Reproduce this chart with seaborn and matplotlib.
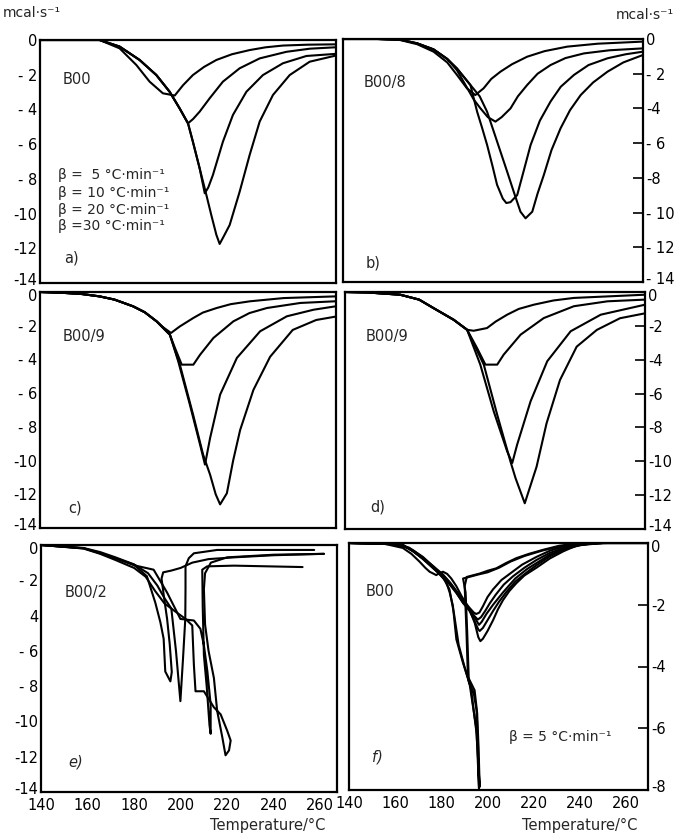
import numpy as np
import pandas as pd
import seaborn as sns
import matplotlib.pyplot as plt
from matplotlib.transforms import ScaledTranslation

# heat flow curves (temperature in degC, heat flow in mcal/s)
# panel a) B00, heating rates 5, 10, 20, 30 K/min
a_05 = [(140, 0), (155, 0), (165.6, 0), (174.2, -0.48), (181.4, -1.44), (187.1, -2.4), (192.8, -3.07),
        (197.9, -3.2), (201.5, -2.6), (205.7, -2.02), (210.5, -1.55), (215.8, -1.15), (222.5, -0.82),
        (230.1, -0.58), (237, -0.42), (244.4, -0.32), (255, -0.27), (267, -0.25)]
a_10 = [(140, 0), (155, 0), (165.6, 0), (174.2, -0.38), (182.8, -1.15), (190, -2.02), (195.7, -2.98),
        (200, -3.94), (203.6, -4.8), (205.8, -4.55), (208.6, -4.13), (212.9, -3.36), (218.6, -2.4),
        (225.8, -1.63), (234.4, -1.06), (245.9, -0.68), (256, -0.5), (267, -0.42)]
a_20 = [(140, 0), (155, 0), (165.6, 0), (174.2, -0.38), (182.8, -1.15), (190, -2.02), (195.7, -2.98),
        (200, -3.94), (203.6, -4.8), (205.7, -5.86), (208.6, -7.39), (210.8, -8.83), (212.3, -8.5),
        (214.3, -7.78), (218.6, -5.86), (222.9, -4.32), (228.7, -2.98), (235.8, -2.02), (244.4, -1.34),
        (254.5, -0.92), (267, -0.8)]
a_30 = [(140, 0), (155, 0), (165.6, 0), (174.2, -0.38), (182.8, -1.15), (190, -2.02), (195.7, -2.98),
        (200, -3.94), (203.6, -4.8), (205.7, -5.86), (208.6, -7.39), (211.5, -8.93), (213.6, -10.08),
        (215.8, -11.23), (217.2, -11.75), (219, -11.3), (221.5, -10.66), (225.8, -8.74), (230.1, -6.62),
        (234.4, -4.7), (240.1, -3.17), (247.3, -2.02), (255.9, -1.25), (267, -0.9)]

# panel b) B00/8
b_05 = [(140, 0), (155, 0), (164.7, -0.06), (172, -0.3), (179.1, -0.73), (185, -1.35), (189.2, -2.07),
        (193.5, -2.84), (197.1, -3.23), (200.7, -2.84), (204, -2.3), (208, -1.88), (213, -1.45),
        (219.5, -1.02), (227, -0.7), (236.8, -0.44), (250, -0.27), (269.5, -0.15)]
b_10 = [(140, 0), (155, 0), (164.7, -0.04), (172, -0.25), (179.1, -0.6), (185, -1.15), (189.2, -1.8),
        (193.5, -2.8), (196.5, -3.5), (199.3, -3.99), (202.5, -4.5), (205.8, -4.76), (208.5, -4.5),
        (212.3, -4.0), (215.5, -3.3), (219.5, -2.65), (224, -2.0), (229.6, -1.5), (236, -1.1),
        (244, -0.83), (255, -0.65), (269.5, -0.54)]
b_20 = [(140, 0), (155, 0), (164.7, -0.04), (172, -0.25), (179.1, -0.6), (185, -1.15), (189.2, -1.7),
        (195, -2.65), (197.9, -4.19), (200, -5.1), (202.2, -6.1), (204.5, -7.3), (206.5, -8.4),
        (209, -9.2), (210.5, -9.45), (212.3, -9.4), (215.2, -8.99), (218, -7.6), (221, -6.1),
        (225, -4.7), (229.6, -3.6), (234, -2.75), (239.7, -2.07), (246, -1.5), (254.2, -1.11),
        (262, -0.88), (269.5, -0.73)]
b_30 = [(140, 0), (155, 0), (164.7, -0.04), (172, -0.25), (179.1, -0.6), (185, -1.15), (189.2, -1.7),
        (195, -2.65), (199, -3.3), (202.2, -4.19), (205, -5.3), (208, -6.5), (211, -7.7), (213.7, -8.8),
        (216.6, -9.95), (218.8, -10.33), (221.7, -9.95), (224, -8.9), (226.7, -7.83), (230, -6.4),
        (233.9, -5.15), (238, -4.1), (242.6, -3.23), (248, -2.5), (254.2, -1.88), (261, -1.35),
        (269.5, -0.92)]

# panel c) B00/9
c_05 = [(140, 0), (150, -0.05), (158, -0.12), (165.6, -0.26), (172, -0.45), (180, -0.85), (185, -1.2),
        (190.1, -1.74), (193, -2.1), (196.3, -2.43), (200, -2.05), (205.9, -1.54), (210, -1.22),
        (215.9, -0.95), (222, -0.72), (230.3, -0.55), (244.7, -0.36), (267, -0.26)]
c_10 = [(140, 0), (150, -0.05), (158, -0.12), (165.6, -0.26), (172, -0.45), (180, -0.85), (185, -1.2),
        (190.1, -1.74), (195.8, -2.53), (198, -3.32), (200.9, -4.31), (205.9, -4.31), (208.8, -3.72),
        (214.5, -2.73), (223.1, -1.74), (230, -1.25), (237.5, -0.95), (251.9, -0.65), (267, -0.55)]
c_20 = [(140, 0), (150, -0.05), (158, -0.12), (165.6, -0.26), (172, -0.45), (180, -0.85), (185, -1.2),
        (190.1, -1.74), (195.8, -2.53), (199.4, -4.11), (204.4, -6.68), (208.8, -9.06), (210.9, -10.24),
        (213.1, -8.66), (217.4, -6.09), (224.6, -3.91), (234.6, -2.33), (246.1, -1.44), (257.6, -1.05),
        (267, -0.85)]
c_30 = [(140, 0), (150, -0.05), (158, -0.12), (165.6, -0.26), (172, -0.45), (180, -0.85), (185, -1.2),
        (190.1, -1.74), (195.8, -2.53), (200.1, -4.31), (205.8, -7.28), (210.1, -9.65), (213.1, -10.84),
        (215.5, -12.0), (217.4, -12.6), (220.3, -11.94), (223, -10.0), (226, -8.19), (231.7, -5.81),
        (238.9, -3.84), (248.6, -2.25), (258.7, -1.66), (267, -1.46)]

# panel d) B00/9, second run
d_05 = [(140, 0), (150, -0.03), (163.8, -0.16), (172, -0.45), (178.2, -0.95), (186.9, -1.64),
        (192.7, -2.23), (195.5, -2.29), (201.3, -2.13), (205, -1.75), (210, -1.34), (215, -1.0),
        (221.5, -0.75), (230, -0.5), (238.8, -0.35), (269.5, -0.16)]
d_10 = [(140, 0), (150, -0.03), (163.8, -0.16), (172, -0.45), (178.2, -0.95), (186.9, -1.64),
        (192.7, -2.23), (197, -3.31), (200.6, -4.29), (205.7, -4.29), (208.5, -3.7), (215.8, -2.52),
        (225.8, -1.54), (238.8, -0.84), (253.3, -0.55), (269.5, -0.45)]
d_20 = [(140, 0), (150, -0.03), (163.8, -0.16), (172, -0.45), (178.2, -0.95), (186.9, -1.64),
        (192.7, -2.23), (198.4, -4.29), (204.2, -7.05), (210, -9.41), (212.2, -10.1), (214.3, -9.02),
        (220.1, -6.46), (227.3, -4.09), (237.4, -2.32), (250.4, -1.34), (269.5, -0.75)]
d_30 = [(140, 0), (150, -0.03), (163.8, -0.16), (172, -0.45), (178.2, -0.95), (186.9, -1.64),
        (192.7, -2.23), (199.9, -4.29), (205.7, -7.25), (211.4, -10.0), (213.6, -10.99),
        (217.6, -12.48), (222.7, -10.32), (227, -7.76), (232.8, -5.2), (240, -3.23), (248.7, -2.24),
        (258.7, -1.55), (269.5, -1.26)]

# panel e) B00/2, several runs at the same rate
e_r1 = [(140, 0), (158.3, -0.19), (165.4, -0.47), (172, -0.75), (179.8, -1.1), (185.5, -1.77),
        (189.1, -3.26), (191.3, -4.38), (192.7, -5.31), (193.4, -7.17), (195.6, -7.73), (196.2, -7.2),
        (195.3, -5.6), (194.2, -4.2), (192.8, -2.9), (191.8, -1.9), (192.5, -1.55), (196, -1.45),
        (200, -1.3), (205, -1.0), (212, -0.8), (222.9, -0.7), (240, -0.58), (261.6, -0.5)]
e_r2 = [(140, 0), (158.3, -0.17), (165.4, -0.4), (172, -0.7), (180, -1.1), (186, -1.6), (190, -2.3),
        (193, -3.0), (196, -3.6), (198, -6.0), (199.9, -8.85), (201, -6.5), (202, -4.2), (202.1, -2.5),
        (202.1, -1.21), (203.5, -0.75), (205.7, -0.47), (215.7, -0.28), (257.4, -0.28)]
e_r3 = [(140, 0), (158.3, -0.18), (165.4, -0.45), (172, -0.75), (180, -1.15), (188.4, -1.4),
        (194.2, -2.7), (199.9, -4.19), (205.7, -4.28), (208.5, -4.75), (210, -5.68), (211.5, -7.17),
        (212.9, -9.03), (212.9, -10.7), (212.4, -10.2), (211.2, -8.0), (210, -6.24), (209.5, -3.5),
        (209.3, -1.4), (211.4, -1.21), (222.9, -1.17), (252.4, -1.25)]
e_r4 = [(140, 0), (158.3, -0.2), (165.4, -0.5), (172, -0.85), (180, -1.3), (185, -1.8), (189, -2.6),
        (193, -3.3), (197, -3.7), (202.1, -4.19), (205, -4.56), (205.7, -6.8), (206.4, -8.29),
        (210, -8.29), (214.3, -9.2), (217.2, -9.6), (220, -10.52), (221.5, -11.08), (220.8, -11.64),
        (219.3, -11.92), (217.9, -10.89), (215.7, -9.4), (214.3, -7.54), (212, -6.0), (210.5, -4.5),
        (210, -2.5), (210.5, -1.6), (213, -1.0), (220, -0.7), (240, -0.55), (261.6, -0.5)]

# panel f) B00, repeated runs at 5 K/min
f_r1 = [(140, 0), (158, -0.03), (163.3, -0.06), (168, -0.25), (172, -0.47), (176.5, -0.75),
        (180.7, -1.02), (184, -1.3), (186.5, -1.55), (189.5, -1.85), (192.2, -2.1), (194, -2.25),
        (195.1, -2.3), (196.5, -2.25), (198, -2.05), (200, -1.75), (202.4, -1.5), (206, -1.2),
        (209.6, -1.0), (215, -0.7), (221.2, -0.45), (227, -0.25), (232.8, -0.12), (240, -0.04),
        (248, 0), (270, 0)]
f_r2 = [(140, 0), (158, -0.03), (163.3, -0.07), (168, -0.27), (172, -0.5), (176.5, -0.78),
        (180.7, -1.04), (184, -1.32), (186.5, -1.58), (189.5, -1.9), (192.2, -2.16), (194.5, -2.38),
        (195.8, -2.48), (197.2, -2.4), (199, -2.2), (201, -1.95), (203.5, -1.68), (207, -1.35),
        (211, -1.08), (216, -0.8), (221.2, -0.55), (227, -0.32), (233, -0.16), (240, -0.05), (250, 0),
        (270, 0)]
f_r3 = [(140, 0), (155, -0.02), (163.3, -0.16), (167, -0.35), (170.5, -0.6), (173, -0.8),
        (174.9, -0.93), (177.8, -1.04), (179, -0.98), (180.7, -0.93), (182.5, -1.0), (184.3, -1.15),
        (186.5, -1.4), (188.6, -1.7), (191, -2.0), (193.5, -2.3), (195.5, -2.55), (196.3, -2.65),
        (197.5, -2.55), (199.5, -2.3), (202.4, -2.0), (206.7, -1.6), (212, -1.15), (217, -0.85),
        (221.2, -0.65), (227, -0.38), (232.8, -0.2), (240, -0.06), (248, 0), (270, 0)]
f_r4 = [(140, 0), (158, -0.03), (163.3, -0.07), (168, -0.28), (172, -0.5), (176.5, -0.8),
        (180.7, -1.06), (184, -1.36), (186.5, -1.6), (189.5, -1.95), (192.2, -2.2), (194.5, -2.55),
        (196, -2.8), (196.6, -2.85), (198, -2.75), (200, -2.5), (202.4, -2.2), (205, -1.9),
        (208, -1.6), (212, -1.25), (217, -0.95), (221.2, -0.72), (227, -0.43), (233, -0.22),
        (240, -0.07), (250, 0), (270, 0)]
f_r5 = [(140, 0), (158, -0.03), (163.3, -0.07), (168, -0.28), (172, -0.52), (176.5, -0.82),
        (180.7, -1.08), (184, -1.38), (186.5, -1.62), (189.5, -1.95), (192.2, -2.14), (194.5, -2.6),
        (196, -3.05), (196.9, -3.18), (198, -3.1), (200, -2.85), (202.4, -2.5), (204.5, -2.15),
        (206.7, -1.85), (209.5, -1.55), (212.5, -1.3), (216, -1.05), (221.2, -0.8), (227, -0.5),
        (232.8, -0.27), (238, -0.1), (244, -0.02), (252, 0), (270, 0)]
f_d1 = [(140, 0), (150, -0.01), (160, -0.04), (166, -0.15), (172, -0.45), (177, -0.8), (182.1, -1.26),
        (183.6, -1.6), (185, -2.03), (186.5, -3.12), (189.4, -3.89), (192.2, -4.55), (195.1, -5.98),
        (196.6, -7.9), (196.1, -6.6), (195.5, -5.5), (194.4, -4.77), (191.5, -4.33), (190.8, -2.69),
        (190.1, -1.4), (191, -1.1), (193.5, -1.05), (196.6, -0.99), (200, -0.9), (203.8, -0.82),
        (208, -0.65), (212.5, -0.49), (218, -0.35), (224.1, -0.22), (231, -0.09), (239, -0.01),
        (250, 0), (270, 0)]
f_d2 = [(140, 0), (150, -0.01), (160, -0.05), (166, -0.17), (172, -0.5), (177, -0.85), (181, -1.15),
        (183.5, -1.5), (185.5, -2.3), (187.5, -3.3), (190, -4.0), (192.8, -4.7), (195.3, -6.2),
        (196.3, -7.95), (195.8, -6.3), (195.2, -5.4), (194, -4.85), (191.9, -4.5), (191.2, -2.9),
        (190.5, -1.6), (189.4, -1.15), (192, -1.1), (196, -1.02), (200, -0.95), (205, -0.8),
        (210, -0.6), (216, -0.42), (224, -0.24), (232, -0.1), (240, -0.02), (250, 0), (270, 0)]

x_ticks = [140, 160, 180, 200, 220, 240, 260]
y_ticks_14 = [0, -2, -4, -6, -8, -10, -12, -14]
y_ticks_8 = [0, -2, -4, -6, -8]
labels_a = ['0', '- 2', '- 4', '- 6', '- 8', '-10', '-12', '-14']
labels_b = ['0', '- 2', '-4', '- 6', '-8', '- 10', '- 12', '- 14']
labels_c = ['0', '- 2', '- 4', '- 6', '- 8', '-10', '-12', '-14']
labels_d = ['0', '-2', '-4', '-6', '-8', '-10', '-12', '-14']
labels_e = ['0', '- 2', '4', '- 6', '- 8', '-10', '-12', '-14']
labels_f = ['0', '-2', '-4', '-6', '-8']


def to_frame(curves):
    rows = []
    for k, pts in enumerate(curves):
        for t, q in pts:
            rows.append({'T': t, 'q': q, 'run': k})
    return pd.DataFrame(rows)


sns.set_style('white')
plt.rcParams['font.family'] = ['DejaVu Sans']

W, H = 676, 835
fig = plt.figure(figsize=(W / 100, H / 100), dpi=100)


def box(l, r, t, b):
    return [l / W, 1 - b / H, (r - l) / W, (b - t) / H]


panels = [
    ('a', box(40, 336, 40, 283), [a_05, a_10, a_20, a_30], 'left', y_ticks_14, labels_a, False, True),
    ('b', box(343, 643, 39, 282), [b_05, b_10, b_20, b_30], 'right', y_ticks_14, labels_b, False, True),
    ('c', box(40, 336, 292, 528), [c_05, c_10, c_20, c_30], 'left', y_ticks_14, labels_c, False, False),
    ('d', box(345, 645, 292, 529), [d_05, d_10, d_20, d_30], 'right', y_ticks_14, labels_d, False, False),
    ('e', box(41, 337, 545, 792), [e_r1, e_r2, e_r3, e_r4], 'left', y_ticks_14, labels_e, True, False),
    ('f', box(349, 648, 543, 790), [f_r1, f_r2, f_r3, f_r4, f_r5, f_d1, f_d2], 'right', y_ticks_8, labels_f, True, False),
]

for name, pos, curves, side, yt, yl, bottom, top in panels:
    ax = fig.add_axes(pos)
    df = to_frame(curves)
    sns.lineplot(data=df, x='T', y='q', units='run', estimator=None, sort=False,
                 color='black', lw=1.5, ax=ax, legend=False)
    ax.set_xlim(140, 267.2 if side == 'left' else 269.5)
    ax.set_ylim(min(yt), 0)
    ax.set_yticks(yt)
    ax.set_yticklabels(yl)
    if side == 'right':
        ax.yaxis.tick_right()
    if bottom:
        ax.set_xticks(x_ticks)
        ax.set_xticklabels([str(t) for t in x_ticks])
    else:
        ax.set_xticks([])
    ax.set_xlabel('')
    ax.set_ylabel('')
    ax.tick_params(direction='in', length=7, width=1.2, labelsize=10.5, colors='black', pad=2)
    ax.tick_params(axis='x', pad=4)
    for s in ax.spines.values():
        s.set_visible(True)
        s.set_color('black')
        s.set_linewidth(1.6)
    # keep the end labels of stacked panels apart, as in the print
    tl = ax.get_yticklabels()
    if not top:
        tl[0].set_transform(tl[0].get_transform() + ScaledTranslation(0, -0.03, fig.dpi_scale_trans))
    tl[-1].set_transform(tl[-1].get_transform() + ScaledTranslation(0, 0.04, fig.dpi_scale_trans))


def put(x, y, s, **kw):
    fig.text(x / W, 1 - y / H, s, va='center', fontsize=kw.pop('fontsize', 10.5), **kw)


put(3, 13, 'mcal·s⁻¹', ha='left', fontsize=10)
put(674, 15, 'mcal·s⁻¹', ha='right', fontsize=10)
put(268, 825, 'Temperature/°C', ha='center')
put(580, 825, 'Temperature/°C', ha='center')

put(63, 80, 'B00')
put(64, 258, 'a)')
put(58, 175, 'β =  5 °C·min⁻¹', fontsize=10)
put(58, 193, 'β = 10 °C·min⁻¹', fontsize=10)
put(58, 210, 'β = 20 °C·min⁻¹', fontsize=10)
put(58, 226, 'β =30 °C·min⁻¹', fontsize=10)

put(364, 82, 'B00/8')
put(366, 263, 'b)')
put(63, 336, 'B00/9')
put(68, 508, 'c)')
put(366, 337, 'B00/9')
put(370, 507, 'd)')
put(65, 593, 'B00/2')
put(68, 762, 'e)', style='italic')
put(366, 592, 'B00')
put(372, 757, 'f)', style='italic')
put(509, 737, 'β = 5 °C·min⁻¹', fontsize=10)

fig.savefig('out.png', dpi=100)
